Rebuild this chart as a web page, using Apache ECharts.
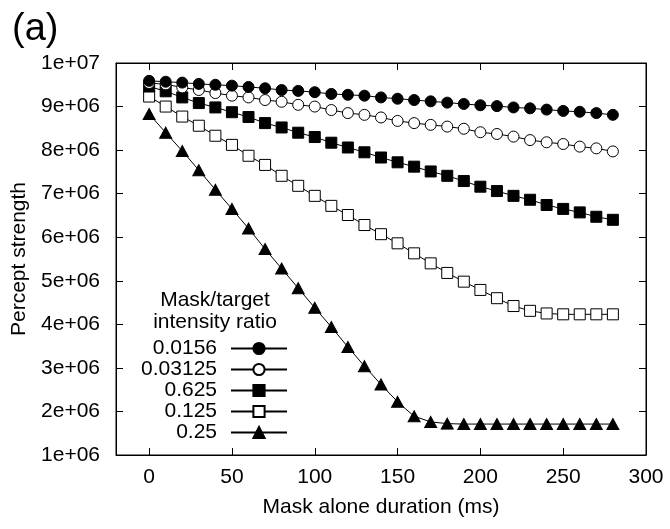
<!DOCTYPE html>
<html>
<head>
<meta charset="utf-8">
<script src="https://cdn.jsdelivr.net/npm/echarts@6/dist/echarts.min.js"></script>
<style>
  html, body { margin: 0; padding: 0; background: #fff; }
  #chart { width: 670px; height: 529px; }
</style>
</head>
<body>
<div id="chart"></div>
<script>
// mask alone duration (ms)
const durations = [0, 10, 20, 30, 40, 50, 60, 70, 80, 90, 100, 110, 120, 130, 140,
  150, 160, 170, 180, 190, 200, 210, 220, 230, 240, 250, 260, 270, 280];

// percept strength, in millions
const r0156 = [9.59, 9.57, 9.55, 9.52, 9.50, 9.48, 9.45, 9.42, 9.38, 9.36, 9.33, 9.29, 9.27, 9.25, 9.21,
  9.18, 9.15, 9.12, 9.09, 9.06, 9.03, 9.01, 8.98, 8.96, 8.93, 8.90, 8.88, 8.85, 8.81];
const r03125 = [9.54, 9.51, 9.44, 9.38, 9.31, 9.25, 9.21, 9.15, 9.11, 9.04, 9.00, 8.92, 8.85, 8.81, 8.75,
  8.67, 8.62, 8.58, 8.54, 8.49, 8.41, 8.37, 8.31, 8.23, 8.18, 8.14, 8.08, 8.04, 7.97];
const r0625 = [9.46, 9.35, 9.21, 9.08, 8.98, 8.87, 8.76, 8.62, 8.52, 8.40, 8.30, 8.17, 8.06, 7.95, 7.83,
  7.72, 7.62, 7.51, 7.41, 7.29, 7.16, 7.06, 6.95, 6.86, 6.74, 6.65, 6.57, 6.47, 6.40];
const r0125 = [9.23, 9.00, 8.77, 8.56, 8.33, 8.12, 7.87, 7.66, 7.41, 7.18, 6.95, 6.72, 6.51, 6.28, 6.07,
  5.86, 5.63, 5.40, 5.18, 4.98, 4.79, 4.60, 4.42, 4.31, 4.25, 4.23, 4.23, 4.23, 4.23];
const r025 = [8.83, 8.40, 7.98, 7.54, 7.09, 6.65, 6.20, 5.73, 5.28, 4.83, 4.38, 3.94, 3.48, 3.04, 2.62,
  2.22, 1.89, 1.76, 1.72, 1.71, 1.71, 1.71, 1.71, 1.71, 1.71, 1.71, 1.71, 1.71, 1.71];

const xTicks = [0, 50, 100, 150, 200, 250, 300];
const xTicksTop = [0, 50, 100, 150, 200, 250];

const FONT = "Liberation Sans";

const chart = echarts.init(document.getElementById("chart"));

function pts(arr) {
  return durations.map(function (d, i) {
    return [d, arr[i] * 1e6];
  });
}

// 9000000 -> "9e+06"
function sci(v) {
  const e = Math.floor(Math.log10(v) + 1e-9);
  const m = Math.round(v / Math.pow(10, e));
  return m + "e+" + (e < 10 ? "0" + e : e);
}

function mkSeries(name, arr, symbol, filled, size) {
  return {
    name: name,
    type: "line",
    data: pts(arr),
    symbol: symbol,
    symbolSize: size,
    showAllSymbol: true,
    lineStyle: { color: "#000", width: 1 },
    itemStyle: {
      color: filled ? "#000" : "#fff",
      borderColor: "#000",
      borderWidth: 1
    },
    emphasis: { disabled: true },
    animation: false
  };
}

const axisLine = { show: true, onZero: false, lineStyle: { color: "#000", width: 1 } };

const option = {
  backgroundColor: "#fff",
  textStyle: { fontFamily: FONT },
  grid: {
    left: 116,
    right: 24,
    top: 63,
    bottom: 74,
    show: true,
    borderColor: "#000",
    borderWidth: 1
  },
  graphic: [
    {
      type: "text",
      x: 12,
      y: 30,
      style: { text: "(a)", font: "38px " + FONT, fill: "#000", textVerticalAlign: "middle" }
    },
    {
      type: "text",
      x: 215,
      y: 300,
      style: { text: "Mask/target", font: "21px " + FONT, fill: "#000", textAlign: "center", textVerticalAlign: "middle" }
    },
    {
      type: "text",
      x: 215,
      y: 322,
      style: { text: "intensity ratio", font: "21px " + FONT, fill: "#000", textAlign: "center", textVerticalAlign: "middle" }
    }
  ],
  legend: {
    orient: "vertical",
    right: 382,
    top: 338,
    padding: 0,
    align: "right",
    itemWidth: 56,
    itemHeight: 14,
    itemGap: 0,
    textStyle: {
      fontFamily: FONT,
      fontSize: 21,
      color: "#000",
      lineHeight: 18,
      padding: [0, 9, 0, 0]
    },
    data: ["0.0156", "0.03125", "0.625", "0.125", "0.25"]
  },
  xAxis: [
    {
      type: "value",
      min: -20,
      max: 300,
      name: "Mask alone duration (ms)",
      nameLocation: "middle",
      nameGap: 42,
      nameTextStyle: { fontFamily: FONT, fontSize: 21, color: "#000" },
      axisLine: axisLine,
      axisTick: { show: true, inside: true, length: 7, customValues: xTicks, lineStyle: { color: "#000" } },
      axisLabel: { customValues: xTicks, margin: 12, fontFamily: FONT, fontSize: 21, color: "#000" },
      splitLine: { show: false }
    },
    {
      type: "value",
      position: "top",
      min: -20,
      max: 300,
      axisLine: axisLine,
      axisTick: { show: true, inside: true, length: 7, customValues: xTicksTop, lineStyle: { color: "#000" } },
      axisLabel: { show: false },
      splitLine: { show: false }
    }
  ],
  yAxis: [
    {
      type: "value",
      min: 1e6,
      max: 1e7,
      interval: 1e6,
      name: "Percept strength",
      nameLocation: "middle",
      nameGap: 86,
      nameTextStyle: { fontFamily: FONT, fontSize: 21, color: "#000" },
      axisLine: axisLine,
      axisTick: { show: true, inside: true, length: 7, lineStyle: { color: "#000" } },
      axisLabel: { margin: 16, fontFamily: FONT, fontSize: 21, color: "#000", formatter: sci },
      splitLine: { show: false }
    },
    {
      type: "value",
      position: "right",
      min: 1e6,
      max: 1e7,
      interval: 1e6,
      axisLine: axisLine,
      axisTick: { show: true, inside: true, length: 7, lineStyle: { color: "#000" } },
      axisLabel: { show: false },
      splitLine: { show: false }
    }
  ],
  series: [
    mkSeries("0.25", r025, "triangle", true, [12, 11]),
    mkSeries("0.125", r0125, "rect", false, 11),
    mkSeries("0.625", r0625, "rect", true, 11),
    mkSeries("0.03125", r03125, "circle", false, 11),
    mkSeries("0.0156", r0156, "circle", true, 11)
  ]
};

chart.setOption(option);
</script>
</body>
</html>
